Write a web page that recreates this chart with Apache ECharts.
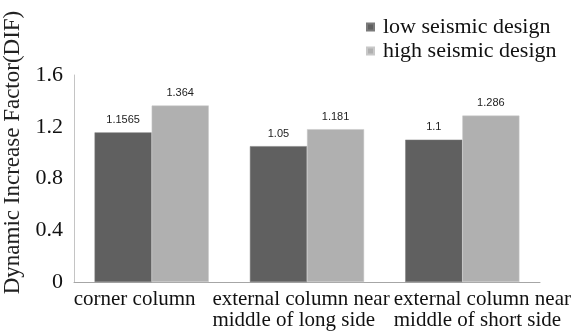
<!DOCTYPE html>
<html>
<head>
<meta charset="utf-8">
<script src="https://cdn.jsdelivr.net/npm/echarts@6/dist/echarts.min.js"></script>
<style>
  html, body { margin: 0; padding: 0; background: #fff; }
  #chart { width: 588px; height: 331px; }
</style>
</head>
<body>
<div id="chart"></div>
<script>
const categories = [
  'corner column',
  'external column near\nmiddle of long side',
  'external column near\nmiddle of short side'
];
const seriesNames = ['low seismic design', 'high seismic design'];
const lowSeismic = [1.1565, 1.05, 1.1];
const highSeismic = [1.364, 1.181, 1.286];
const yTicks = { min: 0, max: 1.6, interval: 0.4 };

const serif = 'Liberation Serif';
// horizontal nudge of each category label block (px)
const labelShift = [-17, -6, 20];

const chart = echarts.init(document.getElementById('chart'), null, { renderer: 'canvas' });

const categoryData = categories.map((c, i) => {
  const s = labelShift[i];
  return {
    value: c,
    textStyle: { padding: s < 0 ? [0, -2 * s, 0, 0] : [0, 0, 0, 2 * s] }
  };
});

chart.setOption({
  animation: false,
  backgroundColor: '#ffffff',
  grid: {
    left: 74, right: 48, top: 75, bottom: 49,
    containLabel: false,
    outerBoundsMode: 'none'
  },
  legend: {
    orient: 'vertical',
    left: 366,
    top: 16,
    padding: 0,
    itemWidth: 7,
    itemHeight: 7,
    itemGap: 2,
    icon: 'rect',
    textStyle: { fontFamily: serif, fontSize: 22, color: '#111', padding: [0, 0, 0, 4] },
    data: seriesNames
  },
  xAxis: {
    type: 'category',
    data: categoryData,
    axisLine: { lineStyle: { color: '#a6a6a6', width: 1 } },
    axisTick: { show: false },
    axisLabel: {
      interval: 0,
      margin: 7,
      fontFamily: serif,
      fontSize: 21,
      color: '#111',
      lineHeight: 21,
      formatter: function (value) {
        return value.split('\n').map(l => '{l|' + l + '}').join('\n');
      },
      rich: {
        l: { fontFamily: serif, fontSize: 21, color: '#111', lineHeight: 21, align: 'left' }
      }
    }
  },
  yAxis: {
    type: 'value',
    min: yTicks.min,
    max: yTicks.max,
    interval: yTicks.interval,
    name: 'Dynamic Increase Factor(DIF)',
    nameLocation: 'middle',
    nameRotate: 90,
    nameGap: 45,
    nameTextStyle: { fontFamily: serif, fontSize: 23, color: '#222', padding: [0, 0, 0, 52] },
    axisLine: { show: true, lineStyle: { color: '#c4c4c4', width: 1 } },
    axisTick: { show: false },
    splitLine: { show: false },
    axisLabel: { fontFamily: serif, fontSize: 22, color: '#111', margin: 11 }
  },
  series: [
    {
      name: seriesNames[0],
      type: 'bar',
      data: lowSeismic,
      barGap: '0%',
      barCategoryGap: '26.5%',
      itemStyle: { color: '#606060', borderColor: '#7a7a7a', borderWidth: 0.5 },
      label: {
        show: true, position: 'top', distance: 7,
        fontFamily: 'Liberation Sans', fontSize: 11, color: '#222'
      }
    },
    {
      name: seriesNames[1],
      type: 'bar',
      data: highSeismic,
      barGap: '0%',
      barCategoryGap: '26.5%',
      itemStyle: { color: '#b0b0b0', borderColor: '#c8c8c8', borderWidth: 0.5 },
      label: {
        show: true, position: 'top', distance: 7,
        fontFamily: 'Liberation Sans', fontSize: 11, color: '#222'
      }
    }
  ]
});
</script>
</body>
</html>
